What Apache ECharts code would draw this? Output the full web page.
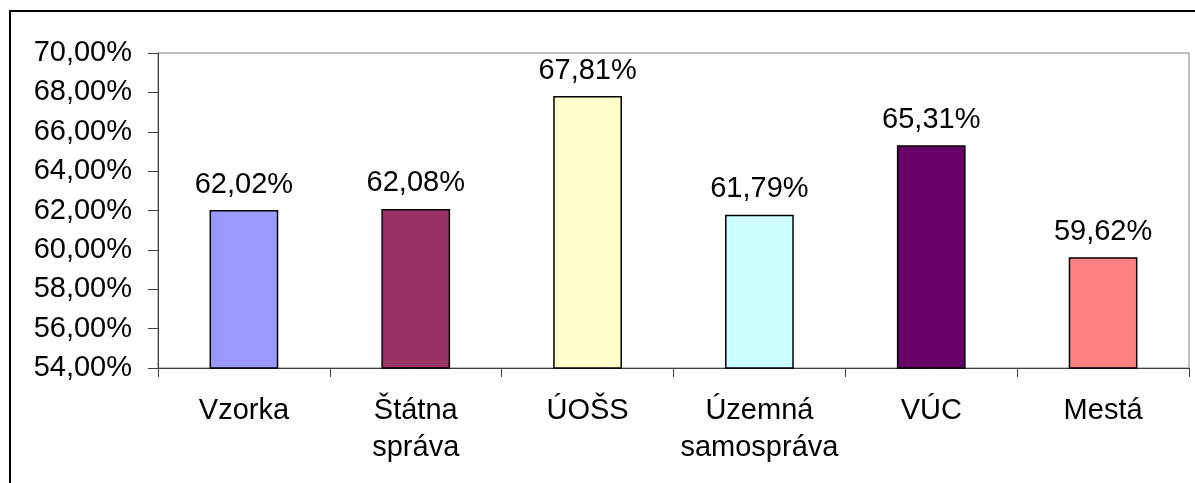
<!DOCTYPE html>
<html><head><meta charset="utf-8">
<script src="https://cdn.jsdelivr.net/npm/echarts@6/dist/echarts.min.js"></script>
<style>html,body{margin:0;padding:0;background:#fff}#c{width:1195px;height:483px}</style>
</head><body><div id="c"></div>
<script>
const categories = ['Vzorka', 'Štátna\nspráva', 'ÚOŠS', 'Územná\nsamospráva', 'VÚC', 'Mestá'];
const values = [62.02, 62.08, 67.81, 61.79, 65.31, 59.62];
const barColors = ['#9999FF', '#993366', '#FFFFCC', '#CCFFFF', '#660066', '#FF8080'];
const yMin = 54, yMax = 70, yStep = 2;

const fmt = v => v.toFixed(2).replace('.', ',') + '%';
const font = 'Liberation Sans, Arial, sans-serif';

const chart = echarts.init(document.getElementById('c'), null, {renderer: 'canvas'});
chart.setOption({
  animation: false,
  backgroundColor: '#fff',
  graphic: [{
    type: 'rect', shape: {x: 10, y: 11, width: 1200, height: 490},
    style: {fill: 'none', stroke: '#000', lineWidth: 2}, silent: true, z: 0
  }],
  grid: {left: 158, top: 53, right: 6, bottom: 115, show: true, borderColor: '#808080', borderWidth: 1, backgroundColor: 'transparent'},
  xAxis: {
    type: 'category', data: categories,
    axisLine: {lineStyle: {color: '#404040', width: 1}},
    axisTick: {show: true, length: 9, lineStyle: {color: '#404040'}},
    axisLabel: {color: '#000', fontFamily: font, fontSize: 29, lineHeight: 37, margin: 24, interval: 0}
  },
  yAxis: {
    type: 'value', min: yMin, max: yMax, interval: yStep,
    axisLine: {show: true, lineStyle: {color: '#404040', width: 1}},
    axisTick: {show: true, length: 10, lineStyle: {color: '#404040'}},
    splitLine: {show: false},
    axisLabel: {color: '#000', fontFamily: font, fontSize: 29, margin: 26, formatter: v => fmt(v)}
  },
  series: [{
    type: 'bar', barWidth: '40%',
    data: values.map((v, i) => ({value: v, itemStyle: {color: barColors[i]}})),
    itemStyle: {borderColor: '#000', borderWidth: 1.5},
    label: {show: true, position: 'top', distance: 11, color: '#000', fontFamily: font, fontSize: 29, formatter: p => fmt(p.value)}
  }]
});
</script></body></html>
